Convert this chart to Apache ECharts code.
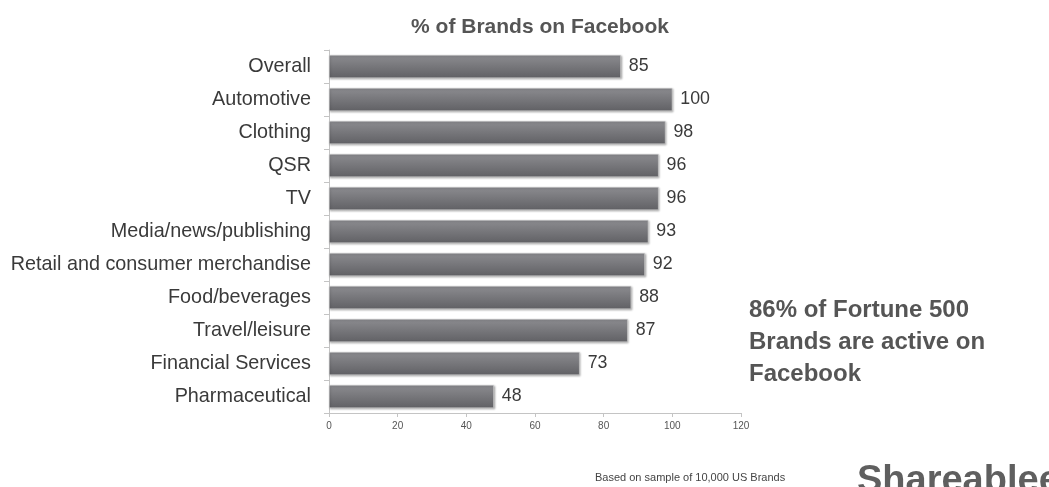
<!DOCTYPE html>
<html>
<head>
<meta charset="utf-8">
<script src="https://cdn.jsdelivr.net/npm/echarts@6/dist/echarts.min.js"></script>
<style>
  html, body { margin: 0; padding: 0; background: #fff; }
  #main { width: 1049px; height: 487px; }
</style>
</head>
<body>
<div id="main"></div>
<script>
// categories and values
var categories = ["Overall", "Automotive", "Clothing", "QSR", "TV", "Media/news/publishing",
  "Retail and consumer merchandise", "Food/beverages", "Travel/leisure", "Financial Services", "Pharmaceutical"];
var values = [85, 100, 98, 96, 96, 93, 92, 88, 87, 73, 48];

var chart = echarts.init(document.getElementById("main"));

var option = {
  backgroundColor: "#fff",
  animation: false,
  title: {
    text: "% of Brands on Facebook",
    left: 535,
    textAlign: "center",
    top: 12,
    textStyle: { fontFamily: "Liberation Sans", fontSize: 21, fontWeight: "bold", color: "#555" }
  },
  grid: { left: 329, right: 308, top: 50, bottom: 74 },
  xAxis: {
    type: "value",
    min: 0,
    max: 120,
    interval: 20,
    splitLine: { show: false },
    axisLine: { show: true, lineStyle: { color: "#c4c4c4" } },
    axisTick: { show: true, length: 4, lineStyle: { color: "#c4c4c4" } },
    axisLabel: { fontFamily: "Liberation Sans", fontSize: 10, color: "#555", margin: 8 }
  },
  yAxis: {
    type: "category",
    data: categories,
    inverse: true,
    axisLine: { show: true, lineStyle: { color: "#c4c4c4" } },
    axisTick: { show: true, length: 5, lineStyle: { color: "#c4c4c4" } },
    axisLabel: { fontFamily: "Liberation Sans", fontSize: 19.8, color: "#3a3a3a", margin: 18 }
  },
  series: [{
    type: "bar",
    data: values,
    barWidth: 23,
    itemStyle: {
      color: new echarts.graphic.LinearGradient(0, 0, 0, 1, [
        { offset: 0, color: "#8c8c90" },
        { offset: 1, color: "#616165" }
      ]),
      borderColor: "#d8d8d8",
      borderWidth: 0.5,
      shadowColor: "rgba(0,0,0,0.3)",
      shadowBlur: 2,
      shadowOffsetX: 1,
      shadowOffsetY: 1
    },
    label: {
      show: true,
      position: "right",
      distance: 8,
      fontFamily: "Liberation Sans",
      fontSize: 17.8,
      color: "#3a3a3a"
    }
  }],
  graphic: [
    {
      type: "text",
      left: 749,
      top: 294,
      style: {
        text: "86% of Fortune 500\nBrands are active on\nFacebook",
        fontFamily: "Liberation Sans",
        fontSize: 24,
        fontWeight: "bold",
        lineHeight: 32,
        fill: "#555"
      }
    },
    {
      type: "text",
      left: 595,
      top: 472,
      style: {
        text: "Based on sample of 10,000 US Brands",
        fontFamily: "Liberation Sans",
        fontSize: 11,
        fill: "#444"
      }
    },
    {
      type: "text",
      left: 857,
      top: 463,
      style: {
        text: "Shareablee",
        fontFamily: "Liberation Sans",
        fontSize: 38,
        fontWeight: "bold",
        fill: "#5f5f5f"
      }
    }
  ]
};

chart.setOption(option);
</script>
</body>
</html>
